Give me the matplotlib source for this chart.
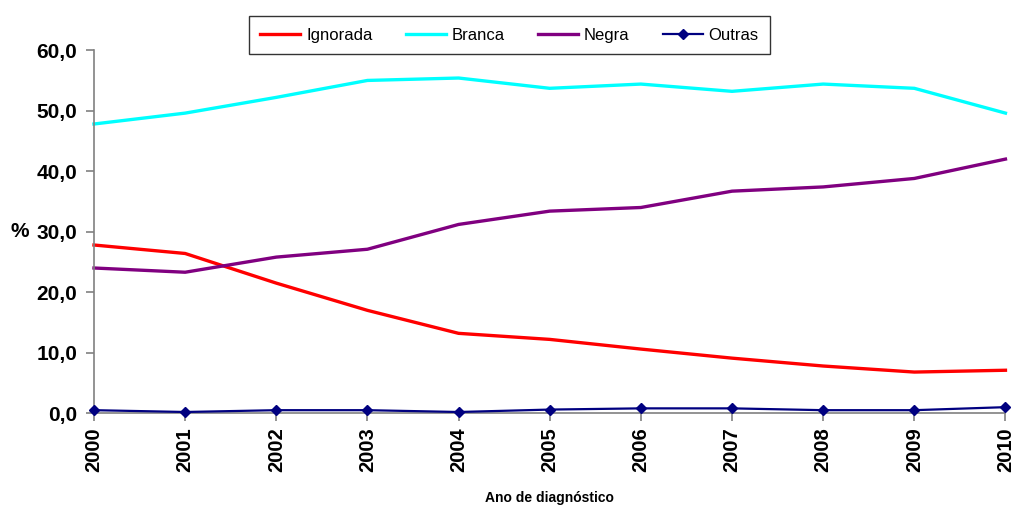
import matplotlib

matplotlib.use('Agg')
import matplotlib.pyplot as plt
from matplotlib.ticker import FuncFormatter

plt.rcParams['font.family'] = ['Liberation Sans', 'DejaVu Sans']

# série histórica por raça/cor (%)
anos = [2000, 2001, 2002, 2003, 2004, 2005, 2006, 2007, 2008, 2009, 2010]
ignorada = [27.8, 26.4, 21.5, 17.0, 13.2, 12.2, 10.6, 9.1, 7.8, 6.8, 7.1]
branca = [47.8, 49.6, 52.2, 55.0, 55.4, 53.7, 54.4, 53.2, 54.4, 53.7, 49.6]
negra = [24.0, 23.3, 25.8, 27.1, 31.2, 33.4, 34.0, 36.7, 37.4, 38.8, 42.0]
outras = [0.5, 0.2, 0.5, 0.5, 0.2, 0.6, 0.8, 0.8, 0.5, 0.5, 1.0]

fig = plt.figure(figsize=(10.15, 5.07), dpi=100)
ax = fig.add_axes([0.0926, 0.185, 0.898, 0.716])

ax.plot(anos, ignorada, color='#FF0000', lw=2.4, label='Ignorada', clip_on=False)
ax.plot(anos, branca, color='#00FFFF', lw=2.4, label='Branca', clip_on=False)
ax.plot(anos, negra, color='#800080', lw=2.4, label='Negra', clip_on=False)
ax.plot(anos, outras, color='#000080', lw=1.6, marker='D', ms=5,
        label='Outras', clip_on=False, zorder=5)

ax.set_xlim(2000, 2010)
ax.set_ylim(0, 60)
ax.set_xticks(anos)
ax.set_xticklabels([str(a) for a in anos], rotation=90, fontsize=14.5, fontweight='bold')
ax.set_yticks(range(0, 61, 10))
ax.yaxis.set_major_formatter(FuncFormatter(lambda v, p: f'{v:.1f}'.replace('.', ',')))
for t in ax.get_yticklabels():
    t.set_fontsize(15)
    t.set_fontweight('bold')

for s in ['top', 'right']:
    ax.spines[s].set_visible(False)
for s in ['left', 'bottom']:
    ax.spines[s].set_color('#808080')
    ax.spines[s].set_linewidth(1.2)
ax.tick_params(axis='both', color='#808080', length=6, width=1.2)
ax.tick_params(axis='y', pad=6)
ax.tick_params(axis='x', pad=4)

ax.set_xlabel('Ano de diagnóstico', fontsize=10, fontweight='bold', labelpad=14)
ax.set_ylabel('%', fontsize=15, fontweight='bold', rotation=0, va='center')
ax.yaxis.set_label_coords(-0.081, 0.5)

leg = fig.legend(loc='center', bbox_to_anchor=(0.502, 0.9305), ncol=4, fontsize=12,
                 frameon=True, fancybox=False, edgecolor='black', handlelength=2.4,
                 columnspacing=2.0, handletextpad=0.35, borderpad=0.7,
                 borderaxespad=0)
leg.get_frame().set_linewidth(1.0)

fig.savefig('out.png', dpi=100)
